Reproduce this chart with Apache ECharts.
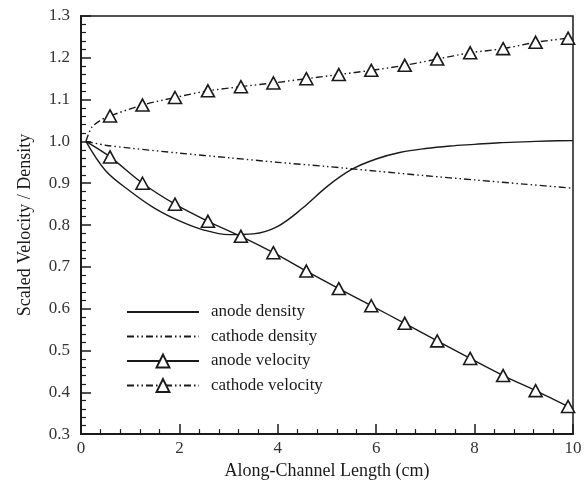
<!DOCTYPE html>
<html>
<head>
<meta charset="utf-8">
<script src="https://cdn.jsdelivr.net/npm/echarts@6/dist/echarts.min.js"></script>
<style>
    html, body { margin: 0; padding: 0; background: #fff; }
    #chart { width: 587px; height: 485px; }
</style>
</head>
<body>
<div id="chart"></div>
<script>
    // density curves (no markers)
    var anodeDensityX = [0.1, 0.5, 1, 1.5, 2, 2.5, 3, 3.5, 4, 4.5, 5, 5.5, 6, 6.5, 7, 7.5, 8, 8.5, 9, 9.5, 10];
    var anodeDensity = [1.0, 0.93, 0.881, 0.84, 0.81, 0.788, 0.777, 0.779, 0.797, 0.840, 0.892, 0.933, 0.958, 0.974, 0.983, 0.989, 0.993, 0.997, 0.999, 1.001, 1.002];
    var cathodeDensityX = [0.1, 0.5, 1, 2, 3, 4, 5, 6, 7, 8, 9, 10];
    var cathodeDensity = [1.0, 0.991, 0.984, 0.972, 0.961, 0.95, 0.94, 0.929, 0.918, 0.908, 0.898, 0.888];

    // velocity curves: start points without markers, then triangle markers
    var anodeVelStartX = [0.1];
    var anodeVelStart = [1.0];
    var cathodeVelStartX = [0.1, 0.22, 0.39];
    var cathodeVelStart = [1.0, 1.034, 1.05];
    var markerX = [0.59, 1.25, 1.91, 2.58, 3.25, 3.91, 4.58, 5.24, 5.9, 6.58, 7.24, 7.91, 8.58, 9.24, 9.9];
    var anodeVel = [0.963, 0.900, 0.850, 0.809, 0.773, 0.734, 0.690, 0.648, 0.607, 0.565, 0.523, 0.481, 0.440, 0.404, 0.366];
    var cathodeVel = [1.061, 1.087, 1.105, 1.121, 1.131, 1.140, 1.150, 1.160, 1.170, 1.182, 1.197, 1.212, 1.222, 1.237, 1.247];

    var xTicks = [0, 2, 4, 6, 8, 10];
    var yTicks = [0.3, 0.4, 0.5, 0.6, 0.7, 0.8, 0.9, 1.0, 1.1, 1.2, 1.3];

    var serif = '"Liberation Serif", "DejaVu Serif", serif';
    var ink = '#1a1a1a';
    var dashDotDot = [7, 3, 1.5, 3, 1.5, 3];

    function pairs(xs, ys) {
        return xs.map(function (x, i) { return [x, ys[i]]; });
    }

    function velocityData(sx, sy, ys) {
        var out = sx.map(function (x, i) {
            return {value: [x, sy[i]], symbol: 'none'};
        });
        return out.concat(pairs(markerX, ys));
    }

    var triStyle = {color: '#fff', borderColor: ink, borderWidth: 1.6};
    var noMark = {color: 'rgba(0,0,0,0)', borderWidth: 0};

    var option = {
        animation: false,
        backgroundColor: '#fff',
        grid: {
            left: 81,
            right: 14,
            top: 16,
            bottom: 47,
            show: true,
            borderColor: ink,
            borderWidth: 1.5
        },
        legend: {
            orient: 'vertical',
            left: 126,
            top: 302,
            padding: 0,
            itemWidth: 72,
            itemHeight: 16,
            itemGap: 4.5,
            selectedMode: false,
            textStyle: {
                fontFamily: serif,
                fontSize: 17,
                lineHeight: 20,
                color: ink,
                padding: [0, 0, 0, 7]
            },
            data: ['anode density', 'cathode density', 'anode velocity', 'cathode velocity']
        },
        xAxis: {
            type: 'value',
            min: xTicks[0],
            max: xTicks[xTicks.length - 1],
            interval: 2,
            name: 'Along-Channel Length (cm)',
            nameLocation: 'middle',
            nameGap: 26,
            nameTextStyle: {fontFamily: serif, fontSize: 18, color: ink},
            axisLine: {lineStyle: {color: ink, width: 2}},
            axisTick: {inside: true, length: 10, lineStyle: {color: ink, width: 1.5}},
            minorTick: {show: true, splitNumber: 5, length: 5, lineStyle: {color: ink, width: 1.2}},
            splitLine: {show: false},
            axisLabel: {fontFamily: serif, fontSize: 17, color: '#333', margin: 6}
        },
        yAxis: {
            type: 'value',
            min: yTicks[0],
            max: yTicks[yTicks.length - 1],
            interval: 0.1,
            name: 'Scaled Velocity / Density',
            nameLocation: 'middle',
            nameGap: 47,
            nameTextStyle: {fontFamily: serif, fontSize: 18, color: ink},
            axisLine: {lineStyle: {color: ink, width: 2}},
            axisTick: {inside: true, length: 10, lineStyle: {color: ink, width: 1.5}},
            minorTick: {show: true, splitNumber: 5, length: 5, lineStyle: {color: ink, width: 1.2}},
            splitLine: {show: false},
            axisLabel: {
                fontFamily: serif,
                fontSize: 17,
                color: '#333',
                margin: 11,
                formatter: function (v) { return v.toFixed(1); }
            }
        },
        series: [
            {
                name: 'anode density',
                type: 'line',
                symbol: 'none',
                smooth: 0.35,
                lineStyle: {color: ink, width: 1.4},
                itemStyle: noMark,
                data: pairs(anodeDensityX, anodeDensity)
            },
            {
                name: 'cathode density',
                type: 'line',
                symbol: 'none',
                smooth: 0.3,
                lineStyle: {color: ink, width: 1.4, type: dashDotDot},
                itemStyle: noMark,
                data: pairs(cathodeDensityX, cathodeDensity)
            },
            {
                name: 'anode velocity',
                type: 'line',
                symbol: 'triangle',
                symbolSize: [13, 12],
                showAllSymbol: true,
                smooth: 0.3,
                lineStyle: {color: ink, width: 1.4},
                itemStyle: triStyle,
                z: 3,
                data: velocityData(anodeVelStartX, anodeVelStart, anodeVel)
            },
            {
                name: 'cathode velocity',
                type: 'line',
                symbol: 'triangle',
                symbolSize: [13, 12],
                showAllSymbol: true,
                smooth: 0.3,
                lineStyle: {color: ink, width: 1.4, type: dashDotDot},
                itemStyle: triStyle,
                z: 3,
                data: velocityData(cathodeVelStartX, cathodeVelStart, cathodeVel)
            }
        ]
    };

    var myChart = echarts.init(document.getElementById('chart'));
    myChart.setOption(option);
</script>
</body>
</html>
